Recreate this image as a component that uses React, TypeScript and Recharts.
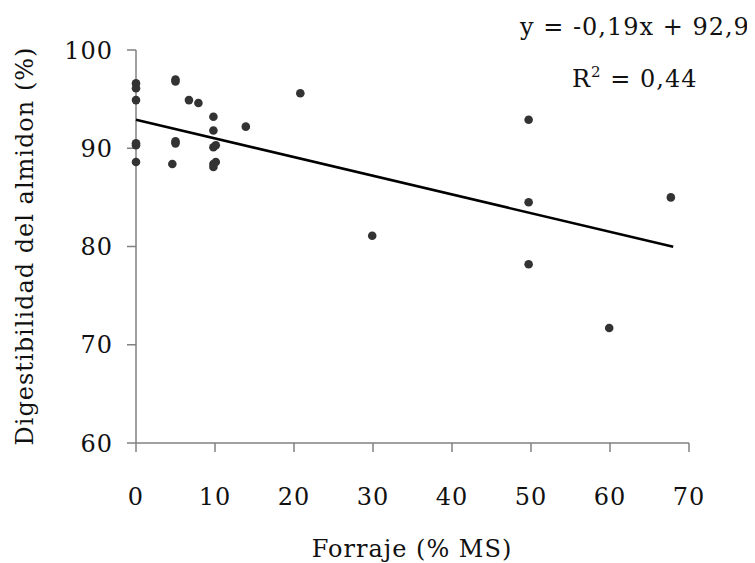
import { ScatterChart, Scatter, XAxis, YAxis } from "recharts";

const forraje = [
  0, 0, 0, 0, 0, 0, 5, 5, 5, 5, 4.6, 6.7, 7.9, 9.8, 9.8, 9.8, 9.8, 9.8, 10.1,
  10.1, 13.9, 20.8, 29.9, 49.7, 49.7, 49.7, 59.9, 67.7,
];
const digestibilidad = [
  96.6, 96.1, 94.9, 90.5, 90.3, 88.6, 97.0, 96.8, 90.7, 90.5, 88.4, 94.9, 94.6,
  93.2, 91.8, 90.1, 88.4, 88.1, 90.3, 88.6, 92.2, 95.6, 81.1, 92.9, 84.5, 78.2,
  71.7, 85.0,
];
const xTicks = [0, 10, 20, 30, 40, 50, 60, 70];
const yTicks = [60, 70, 80, 90, 100];
// y = -0,19x + 92,9 drawn between x = 0 and x = 68
const trendX = [0, 68];
const slope = -0.19;
const intercept = 92.9;

const points = forraje.map((x, i) => ({ x, y: digestibilidad[i] }));
const trend = trendX.map((x) => ({ x, y: intercept + slope * x }));

const font = "'DejaVu Serif', serif";
const axisColor = "#808080";
const textStyle = { fill: "#111", fontSize: 24, fontFamily: font, letterSpacing: 1 };

const Dot = (props: any) => (
  <circle cx={props.cx} cy={props.cy} r={4.3} fill="#333333" />
);

export default function App() {
  return (
    <div style={{ width: 747, height: 555 }}>
      <ScatterChart
        width={747}
        height={555}
        margin={{ top: 42, right: 66, bottom: 60, left: 0 }}
      >
        <XAxis
          type="number"
          dataKey="x"
          domain={[0, 70]}
          ticks={xTicks}
          height={60}
          tickSize={9}
          tickMargin={36}
          stroke={axisColor}
          strokeWidth={1.5}
          tick={textStyle}
        />
        <YAxis
          type="number"
          dataKey="y"
          domain={[60, 100]}
          ticks={yTicks}
          width={128}
          tickSize={9}
          tickMargin={14}
          stroke={axisColor}
          strokeWidth={1.5}
          tick={textStyle}
        />
        <Scatter
          data={trend}
          line={{ stroke: "#000", strokeWidth: 2.5 }}
          shape={() => null}
          isAnimationActive={false}
        />
        <Scatter data={points} shape={Dot} isAnimationActive={false} />
        <text
          x={17}
          y={238}
          transform="rotate(-90 17 238)"
          textAnchor="middle"
          dominantBaseline="central"
          {...textStyle}
        >
          Digestibilidad del almidon (%)
        </text>
        <text x={404} y={549} textAnchor="middle" {...textStyle}>
          Forraje (% MS)
        </text>
        <text x={512} y={27} {...textStyle}>
          y = -0,19x + 92,9
        </text>
        <text x={564} y={79} {...textStyle}>
          R
          <tspan dy={-10} fontSize={15}>
            2
          </tspan>
          <tspan dy={10}> = 0,44</tspan>
        </text>
      </ScatterChart>
    </div>
  );
}
